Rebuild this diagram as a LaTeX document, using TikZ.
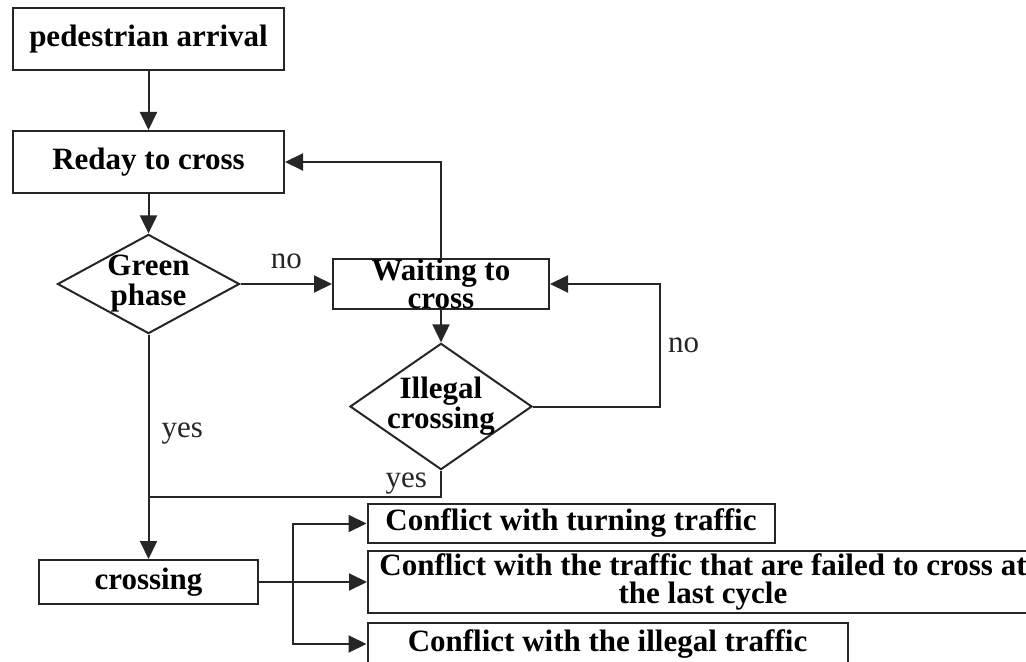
\documentclass[tikz,border=0pt]{standalone}
\usepackage{fontspec}
\setmainfont{Liberation Serif}
\usetikzlibrary{arrows.meta,shapes.geometric}
\tikzset{
  flowline/.style={black!85, line width=1pt},
  flowarrow/.style={flowline, -{Triangle[length=9pt,width=8.5pt]}},
  boxnode/.style={draw=black!85, line width=1pt, rectangle, align=center, inner sep=0pt, font=\bfseries\fontsize{15.5pt}{14pt}\selectfont},
  decisionnode/.style={draw=black!85, line width=1pt, diamond, align=center, inner xsep=0pt, inner ysep=-10pt, minimum width=91pt, minimum height=45pt, font=\bfseries\fontsize{15.5pt}{15pt}\selectfont},
  labelnode/.style={inner sep=2pt, font=\fontsize{15.5pt}{18pt}\selectfont}
}
\begin{document}
\begin{tikzpicture}[x=0.5pt,y=-0.5pt]
  \useasboundingbox (0,0) rectangle (1026,662);
  % main column
  \node[boxnode, minimum width=135.5pt, minimum height=31pt] (arrival) at (148.5,39.5) {pedestrian arrival};
  \node[boxnode, minimum width=135.5pt, minimum height=31pt] (ready) at (148.5,162) {Reday to cross};
  \node[decisionnode] (green) at (148.5,284) {Green\\phase};
  \node[boxnode, inner ysep=-4pt, minimum width=108pt, minimum height=25pt] (wait) at (441,284) {Waiting to\\cross};
  \node[decisionnode] (illegal) at (441,406.5) {Illegal\\crossing};
  \node[boxnode, minimum width=109.5pt, minimum height=22pt] (crossing) at (148.5,582) {crossing};
  % conflicts
  \node[boxnode, minimum width=203.5pt, minimum height=19.5pt] (turning) at (571,523.5) {Conflict with turning traffic};
  \node[boxnode, inner ysep=-2pt, minimum width=335pt, minimum height=31pt] (failed) at (703,582) {Conflict with the traffic that are failed to cross at\\the last cycle};
  \node[boxnode, minimum width=240pt, minimum height=21pt] (illegaltraffic) at (607.5,644) {Conflict with the illegal traffic};
  \coordinate (loopR) at (660,406.5);
  \coordinate (join) at (148.5,497);
  \coordinate (bus) at (293,582);
  % connectors
  \draw[flowarrow] (arrival) -- (ready);
  \draw[flowarrow] (ready) -- (green);
  \draw[flowarrow] (green.east) -- node[labelnode, midway, above=5pt] {no} (wait.west);
  \draw[flowarrow] (wait.north) |- (ready.east);
  \draw[flowarrow] (wait.south) -- (illegal.north);
  \draw[flowarrow] (illegal.east) -- (loopR) |- node[labelnode, pos=0.25, right=1.5pt] {no} (wait.east);
  \draw[flowline] (illegal.south) |- node[labelnode, pos=0.25, left=4.5pt] {yes} (join);
  \draw[flowarrow] (green.south) -- node[labelnode, pos=0.44, right=4pt] {yes} (crossing.north);
  \draw[flowarrow] (crossing.east) -- (failed.west);
  \draw[flowarrow] (bus) |- (turning.west);
  \draw[flowarrow] (bus) |- (illegaltraffic.west);
\end{tikzpicture}
\end{document}
